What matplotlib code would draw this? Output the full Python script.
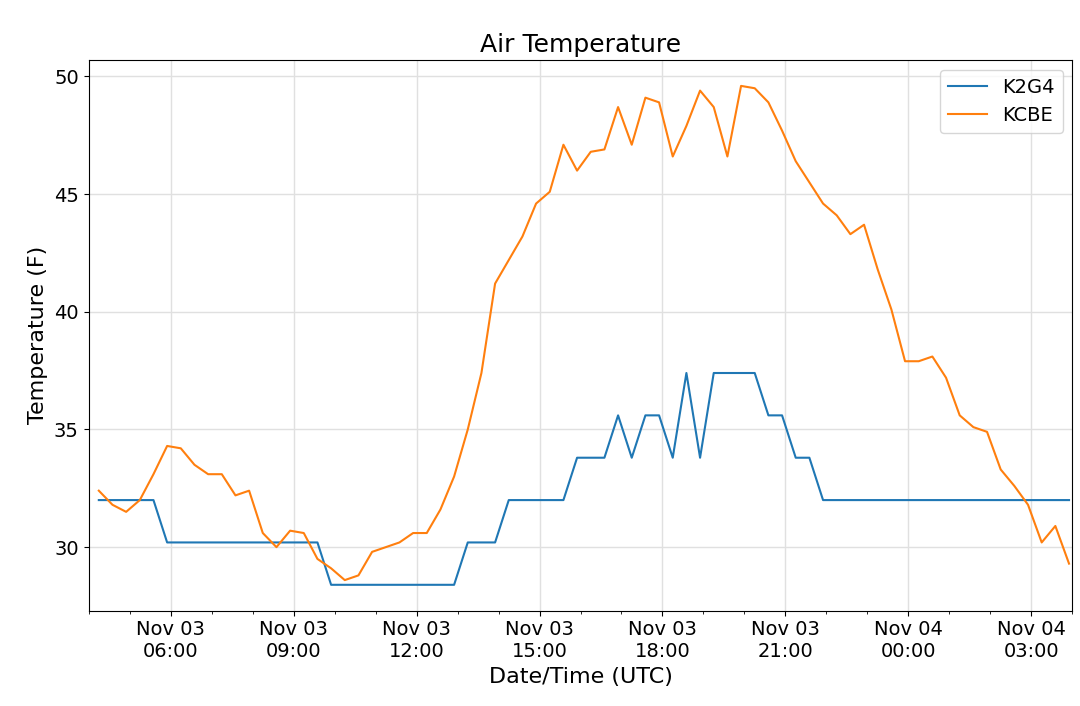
import matplotlib
matplotlib.use("Agg")
import matplotlib.pyplot as plt
import matplotlib.dates as mdates
import pandas as pd

start = "2018-11-03 04:15"
n_points = 72
kcbe = [32.4,31.8,31.5,32.0,33.1,34.3,34.2,33.5,33.1,33.1,32.2,32.4,30.6,30.0,30.7,30.6,29.5,29.1,28.6,28.8,
        29.8,30.0,30.2,30.6,30.6,31.6,33.0,35.0,37.4,41.2,42.2,43.2,44.6,45.1,47.1,46.0,46.8,46.9,48.7,47.1,
        49.1,48.9,46.6,47.9,49.4,48.7,46.6,49.6,49.5,48.9,47.7,46.4,45.5,44.6,44.1,43.3,43.7,41.8,40.1,37.9,
        37.9,38.1,37.2,35.6,35.1,34.9,33.3,32.6,31.8,30.2,30.9,29.3]
k2g4 = [32.0]*5 + [30.2]*12 + [28.4]*10 + [30.2]*3 + [32.0]*5 + [33.8]*3 + [35.6,33.8,35.6,35.6,33.8,37.4,33.8,37.4,37.4,37.4,37.4,35.6,35.6,33.8,33.8] + [32.0]*19
times = pd.date_range(start, periods=n_points, freq="20min")

fig = plt.figure(figsize=(10.8, 7.06), dpi=100)
ax = fig.add_axes([0.082, 0.135, 0.911, 0.78])
ax.plot(times, k2g4, color="#1f77b4", lw=1.5, label="K2G4")
ax.plot(times, kcbe, color="#ff7f0e", lw=1.5, label="KCBE")
ax.set_xlim(times[0] - pd.Timedelta(minutes=15), times[-1] + pd.Timedelta(minutes=5))
ax.set_ylim(27.3, 50.7)
ax.set_yticks([30, 35, 40, 45, 50])
ax.xaxis.set_major_locator(mdates.HourLocator(byhour=range(0, 24, 3)))
ax.xaxis.set_minor_locator(mdates.HourLocator())
ax.xaxis.set_major_formatter(mdates.DateFormatter("%b %d\n%H:%M"))
ax.grid(True, which="major", color="#e0e0e0", lw=1)
ax.tick_params(labelsize=14)
ax.set_title("Air Temperature", fontsize=18)
ax.set_xlabel("Date/Time (UTC)", fontsize=16)
ax.set_ylabel("Temperature (F)", fontsize=16)
ax.legend(fontsize=14, loc="upper right")
fig.savefig("out.png", dpi=100)
